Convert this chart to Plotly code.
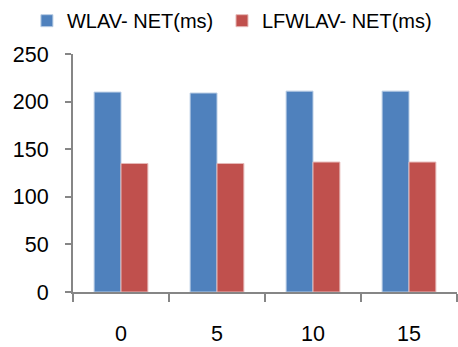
import plotly.graph_objects as go

categories = ["0", "5", "10", "15"]
wlav = [210, 209, 211, 211]
lfwlav = [135, 135, 136.5, 136.5]
series_names = ["WLAV- NET(ms)", "LFWLAV- NET(ms)"]
y_ticks = [0, 50, 100, 150, 200, 250]

fig = go.Figure()
fig.add_trace(go.Bar(x=categories, y=wlav, name=series_names[0], legend="legend",
                     marker=dict(color="#4F81BD", line=dict(color="#b9cde5", width=1))))
fig.add_trace(go.Bar(x=categories, y=lfwlav, name=series_names[1], legend="legend2",
                     marker=dict(color="#C0504D", line=dict(color="#e6b9b8", width=1))))

leg_common = dict(orientation="h", y=1.14, xanchor="left", yanchor="middle",
                  font=dict(size=20), itemwidth=30, bgcolor="rgba(0,0,0,0)")
fig.update_layout(
    width=458, height=347,
    margin=dict(l=73, r=1, t=51, b=53),
    paper_bgcolor="white", plot_bgcolor="white",
    font=dict(family="Liberation Sans, Arial, sans-serif", size=21.5, color="#000000"),
    barmode="group", bargap=0.44, bargroupgap=0,
    showlegend=True,
    legend=dict(x=-0.12, **leg_common),
    legend2=dict(x=0.388, **leg_common),
)
fig.update_xaxes(type="category", showline=True, linecolor="#868686", linewidth=2,
                 ticks="outside", tickson="boundaries", ticklen=8, tickcolor="#868686",
                 tickwidth=2, ticklabelstandoff=21, showgrid=False, zeroline=False)
fig.update_yaxes(range=[0, 250], tickvals=y_ticks, showline=True, linecolor="#868686",
                 linewidth=2, ticks="outside", ticklen=6, tickcolor="#868686", tickwidth=2,
                 ticklabelstandoff=12, showgrid=False, zeroline=False)

fig.write_html("out.html")
